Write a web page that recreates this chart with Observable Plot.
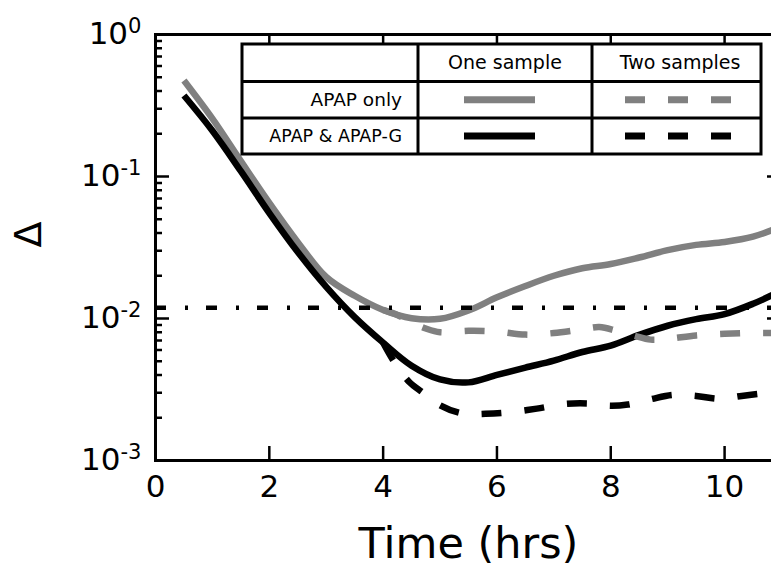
<!DOCTYPE html>
<html><head><meta charset="utf-8">
<script src="https://cdn.jsdelivr.net/npm/d3@7"></script>
<script src="https://cdn.jsdelivr.net/npm/@observablehq/plot@0.6"></script>
<style>
html,body{margin:0;padding:0;overflow:hidden;background:#fff;}
#wrap{position:relative;width:771px;height:569px;overflow:hidden;}
#wrap svg{display:block;max-width:none !important;}
#legend{position:absolute;left:0;top:0;}
</style></head><body><div id="wrap"></div>
<script>
// ---- data ----
const tOne = [0.5, 1.0, 1.5, 2.0, 2.5, 3.0, 3.5, 4.0, 4.5, 5.0, 5.5, 6.0, 6.5, 7.0, 7.5, 8.0, 8.5, 9.0, 9.5, 10.0, 10.5, 11.0];
const apapOnlyOne = [0.475, 0.256, 0.1285, 0.0652, 0.0345, 0.0196, 0.01445, 0.01148, 0.01005, 0.00995, 0.01138, 0.0141, 0.01694, 0.0200, 0.0226, 0.0242, 0.0269, 0.0303, 0.0330, 0.0346, 0.0377, 0.0445];
const apapGOne = [0.372, 0.210, 0.109, 0.0553, 0.0294, 0.0167, 0.01023, 0.00676, 0.00465, 0.00372, 0.00355, 0.00401, 0.00451, 0.00505, 0.00581, 0.00644, 0.00766, 0.00889, 0.00989, 0.01074, 0.0127, 0.0157];
const tTwoGray = [4.0, 4.25, 4.5, 4.75, 5.0, 5.5, 6.0, 6.5, 7.0, 7.5, 7.8, 8.1, 8.4, 8.7, 9.0, 9.5, 10.0, 10.5, 11.0];
const apapOnlyTwo = [0.0115, 0.0106, 0.0094, 0.0085, 0.0080, 0.0082, 0.0081, 0.0077, 0.0079, 0.0084, 0.0087, 0.0082, 0.0076, 0.0071, 0.0072, 0.0076, 0.0078, 0.0079, 0.0079];
const tTwoBlack = [4.0, 4.2, 4.45, 4.7, 5.0, 5.4, 5.8, 6.2, 6.7, 7.2, 7.6, 8.0, 8.3, 8.7, 9.1, 9.5, 9.9, 10.3, 10.7, 11.0];
const apapGTwo = [0.00675, 0.0049, 0.0036, 0.0030, 0.00245, 0.00214, 0.00213, 0.00218, 0.00232, 0.00250, 0.00252, 0.00243, 0.00248, 0.0027, 0.0029, 0.00285, 0.00272, 0.00285, 0.00298, 0.0031];
const threshold = 0.0119;
const xTicks = [0, 2, 4, 6, 8, 10];
const yTicks = [1e-3, 1e-2, 1e-1, 1];
const yTickBase = "10";
const yTickExps = ["-3", "-2", "-1", "0"];
const colHeaders = ["One sample", "Two samples"];
const rowLabels = ["APAP only", "APAP & APAP-G"];
const xLabel = "Time (hrs)";
const yLabel = "\u0394";

const gray = "#808080";
const zip = (t, v) => t.map((d, i) => ({t: d, v: v[i]}));
const minorY = [];
for (let e = -3; e < 0; e++) for (let m = 2; m <= 9; m++) minorY.push(m * Math.pow(10, e));

const W = 800, H = 569, mL = 155, mR = 19, mT = 34, mB = 109;
const xMax = 11;
const fw = W - mL - mR, fh = H - mT - mB;
const majorLen = 14, minorLen = 7;
const pxPerHr = fw / xMax, decPerPx = 3 / fh;
const font = "DejaVu Sans";
const crv = "catmull-rom";
const tk = {stroke: "#000", strokeWidth: 2.5};

const chart = Plot.plot({
  width: W, height: H,
  marginLeft: mL, marginRight: mR, marginTop: mT, marginBottom: mB,
  style: {fontFamily: font},
  x: {domain: [0, xMax]},
  y: {type: "log", domain: [1e-3, 1]},
  marks: [
    Plot.line(zip(tOne, apapOnlyOne), {x: "t", y: "v", stroke: gray, strokeWidth: 6.5, curve: crv, strokeLinecap: "butt"}),
    Plot.line(zip(tOne, apapGOne), {x: "t", y: "v", stroke: "black", strokeWidth: 6.5, curve: crv, strokeLinecap: "butt"}),
    Plot.line(zip(tTwoGray, apapOnlyTwo), {x: "t", y: "v", stroke: gray, strokeWidth: 6.5, curve: crv, strokeDasharray: "20,23", strokeLinecap: "butt"}),
    Plot.line(zip(tTwoBlack, apapGTwo), {x: "t", y: "v", stroke: "black", strokeWidth: 6.5, curve: crv, strokeDasharray: "20,23", strokeLinecap: "butt"}),
    Plot.ruleY([threshold], {stroke: "black", strokeWidth: 4.5, strokeDasharray: "11,19,3,18"}),
    // inward ticks on all four sides
    Plot.ruleY(yTicks, {y: d => d, x1: 0, x2: majorLen / pxPerHr, ...tk}),
    Plot.ruleY(minorY, {y: d => d, x1: 0, x2: minorLen / pxPerHr, ...tk}),
    Plot.ruleY(yTicks, {y: d => d, x1: xMax - majorLen / pxPerHr, x2: xMax, ...tk}),
    Plot.ruleY(minorY, {y: d => d, x1: xMax - minorLen / pxPerHr, x2: xMax, ...tk}),
    Plot.ruleX(xTicks, {x: d => d, y1: 1e-3, y2: 1e-3 * Math.pow(10, majorLen * decPerPx), ...tk}),
    Plot.ruleX(xTicks, {x: d => d, y1: 1, y2: Math.pow(10, -majorLen * decPerPx), ...tk}),
    Plot.frame({stroke: "black", strokeWidth: 3}),
    Plot.axisX({ticks: xTicks, tickSize: 0, tickPadding: 14, fontSize: 31, label: null, tickFormat: d => String(d)}),
    Plot.axisY({ticks: yTicks, tickSize: 0, tickPadding: 14, fontSize: 31, label: null, tickFormat: d => yTickBase + "^" + yTickExps[yTicks.indexOf(d)]}),
    Plot.text([yLabel], {text: d => d, frameAnchor: "left", dx: -127, rotate: -90, fontSize: 38}),
    Plot.text([xLabel], {text: d => d, frameAnchor: "bottom", dy: 84, fontSize: 43, lineAnchor: "middle"})
  ]
});
// superscript exponents on the y tick labels
d3.select(chart).selectAll("[aria-label='y-axis tick label'] text").each(function() {
  const s = this.textContent;
  if (!s.includes("^")) return;
  const [b, e] = s.split("^");
  const t = d3.select(this);
  t.text(null);
  t.append("tspan").text(b);
  t.append("tspan").attr("dy", "-0.55em").attr("font-size", "0.68em").text(e);
});
document.getElementById("wrap").appendChild(chart);

// ---- legend table ----
const L = d3.create("svg").attr("id", "legend").attr("width", 771).attr("height", 200)
  .style("font-family", font);
const x0 = 242, x1 = 418, x2 = 592, x3 = 761, y0 = 44, y1 = 81.5, y2 = 118, y3 = 154;
L.append("rect").attr("x", x0).attr("y", y0).attr("width", x3 - x0).attr("height", y3 - y0)
  .attr("fill", "white").attr("stroke", "black").attr("stroke-width", 3);
[[x1, y0, x1, y3], [x2, y0, x2, y3], [x0, y1, x3, y1], [x0, y2, x3, y2]].forEach(([a, b, c, d]) =>
  L.append("line").attr("x1", a).attr("y1", b).attr("x2", c).attr("y2", d).attr("stroke", "black").attr("stroke-width", 3));
const cx = [(x1 + x2) / 2, 680];
colHeaders.forEach((h, i) => L.append("text").attr("x", cx[i]).attr("y", (y0 + y1) / 2).attr("dy", "0.35em")
  .attr("text-anchor", "middle").attr("font-size", 19).text(h));
const ry = [(y1 + y2) / 2, (y2 + y3) / 2];
const rc = [gray, "black"];
rowLabels.forEach((r, i) => {
  L.append("text").attr("x", 402).attr("y", ry[i]).attr("dy", "0.35em").attr("text-anchor", "end")
    .attr("font-size", i ? 17.5 : 18.5).text(r);
  L.append("line").attr("x1", 464).attr("x2", 535).attr("y1", ry[i]).attr("y2", ry[i])
    .attr("stroke", rc[i]).attr("stroke-width", 7);
  L.append("line").attr("x1", 625).attr("x2", 731).attr("y1", ry[i]).attr("y2", ry[i])
    .attr("stroke", rc[i]).attr("stroke-width", 7).attr("stroke-dasharray", "20,23");
});
document.getElementById("wrap").appendChild(L.node());
</script></body></html>
